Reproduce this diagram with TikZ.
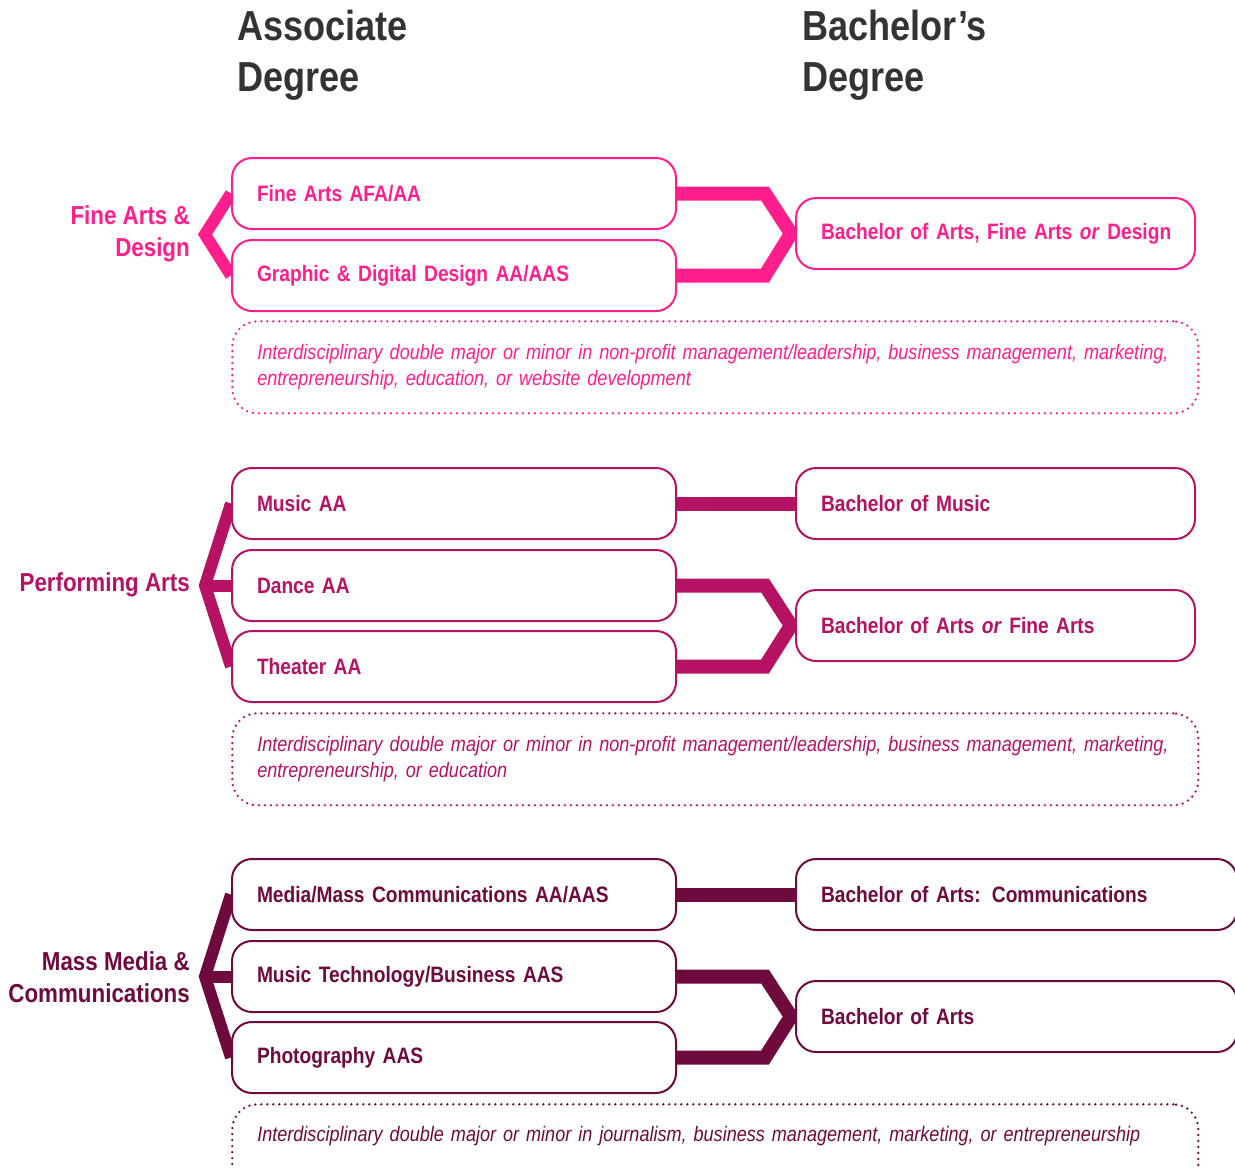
\documentclass[tikz,border=0pt]{standalone}
\usepackage{fontspec}
\setmainfont{Liberation Sans}[FakeStretch=0.86]
\usetikzlibrary{backgrounds,calc}
\definecolor{cA}{RGB}{255,30,140}
\definecolor{cB}{RGB}{181,18,100}
\definecolor{cC}{RGB}{110,10,62}
\definecolor{hdr}{RGB}{51,51,51}
\begin{document}
\begin{tikzpicture}[x=1pt,y=-1pt,
  ka/.style={draw=cA, text=cA},
  kb/.style={draw=cB, text=cB},
  kc/.style={draw=cC, text=cC},
  deg/.style={draw, line width=2pt, rounded corners=20pt, fill=white,
    minimum height=71pt, inner xsep=25pt, inner ysep=0pt, align=left,
    font=\bfseries\fontsize{22.3}{26}\selectfont, anchor=north west},
  lft/.style={deg, text width=394pt},
  rgt/.style={deg, text width=349pt},
  rgtw/.style={deg, text width=391pt},
  note/.style={draw, line width=2.6pt, line cap=round, dash pattern=on 0pt off 6pt,
    rounded corners=25pt, minimum height=92pt, text width=916pt, inner xsep=25pt,
    align=left, font=\itshape\fontsize{21}{26}\selectfont, anchor=north west},
  grp/.style={align=right, anchor=east, inner sep=0pt,
    font=\bfseries\fontsize{26}{32}\selectfont},
  head/.style={align=left, anchor=west, inner sep=0pt, text=hdr,
    font=\bfseries\fontsize{42}{51}\selectfont},
  bar/.style={line width=14pt, line join=miter},
  brk/.style={line width=12pt, line join=miter}
]
\useasboundingbox (0,0) rectangle (1235,1168);

% headers
\node[head] (h1) at (237,55) {Associate\\Degree};
\node[head] (h2) at (802,55) {Bachelor’s\\Degree};

% group 1
\node[lft, ka] (fa) at (231,157) {Fine Arts AFA/AA};
\node[lft, ka] (gd) at (231,239) {Graphic \& Digital Design AA/AAS};
\node[rgt, ka] (ba1) at (795,197) {\mbox{Bachelor of Arts, Fine Arts \textit{or} Design}};
\node[note, ka] (n1) at (231,320) {Interdisciplinary double major or minor in non-profit management/leadership, business management, marketing,\\entrepreneurship, education, or website development};
\node[grp, text=cA] (g1) at (190,234) {Fine Arts \&\\Design};

% group 2
\node[lft, kb] (mu) at (231,467) {Music AA};
\node[lft, kb] (da) at (231,549) {Dance AA};
\node[lft, kb] (th) at (231,630) {Theater AA};
\node[rgt, kb] (bm) at (795,467) {Bachelor of Music};
\node[rgt, kb] (baf) at (795,589) {Bachelor of Arts \textit{or} Fine Arts};
\node[note, kb] (n2) at (231,712) {Interdisciplinary double major or minor in non-profit management/leadership, business management, marketing,\\entrepreneurship, or education};
\node[grp, text=cB] (g2) at (190,585) {Performing Arts};

% group 3
\node[lft, kc] (mm) at (231,858) {Media/Mass Communications AA/AAS};
\node[lft, kc] (mt) at (231,940) {Music Technology/Business AAS};
\node[lft, kc] (ph) at (231,1021) {Photography AAS};
\node[rgtw, kc] (bac) at (795,858) {Bachelor of Arts: Communications};
\node[rgtw, kc] (ba3) at (795,980) {Bachelor of Arts};
\node[note, kc] (n3) at (231,1103) {Interdisciplinary double major or minor in journalism, business management, marketing, or entrepreneurship\\\strut};
\node[grp, text=cC] (g3) at (190,977) {Mass Media \&\\Communications};

\begin{pgfonlayer}{background}
  % group 1
  \draw[brk, cA] (fa.west) -- ($(fa.west)!0.5!(gd.west)+(-26,0)$) -- (gd.west);
  \draw[bar, cA] (fa.east) -- ++(88,0) -- ($(ba1.west)+(-4,0)$) -- ($(gd.east)+(88,0)$) -- (gd.east);
  % group 2
  \draw[brk, cB] (mu.west) -- ($(da.west)+(-26,0)$) -- (th.west);
  \draw[brk, cB] ($(da.west)+(-26,0)$) -- (da.west);
  \draw[bar, cB] (mu.east) -- (bm.west);
  \draw[bar, cB] (da.east) -- ++(88,0) -- ($(baf.west)+(-4,0)$) -- ($(th.east)+(88,0)$) -- (th.east);
  % group 3
  \draw[brk, cC] (mm.west) -- ($(mt.west)+(-26,0)$) -- (ph.west);
  \draw[brk, cC] ($(mt.west)+(-26,0)$) -- (mt.west);
  \draw[bar, cC] (mm.east) -- (bac.west);
  \draw[bar, cC] (mt.east) -- ++(88,0) -- ($(ba3.west)+(-4,0)$) -- ($(ph.east)+(88,0)$) -- (ph.east);
\end{pgfonlayer}
\end{tikzpicture}
\end{document}
